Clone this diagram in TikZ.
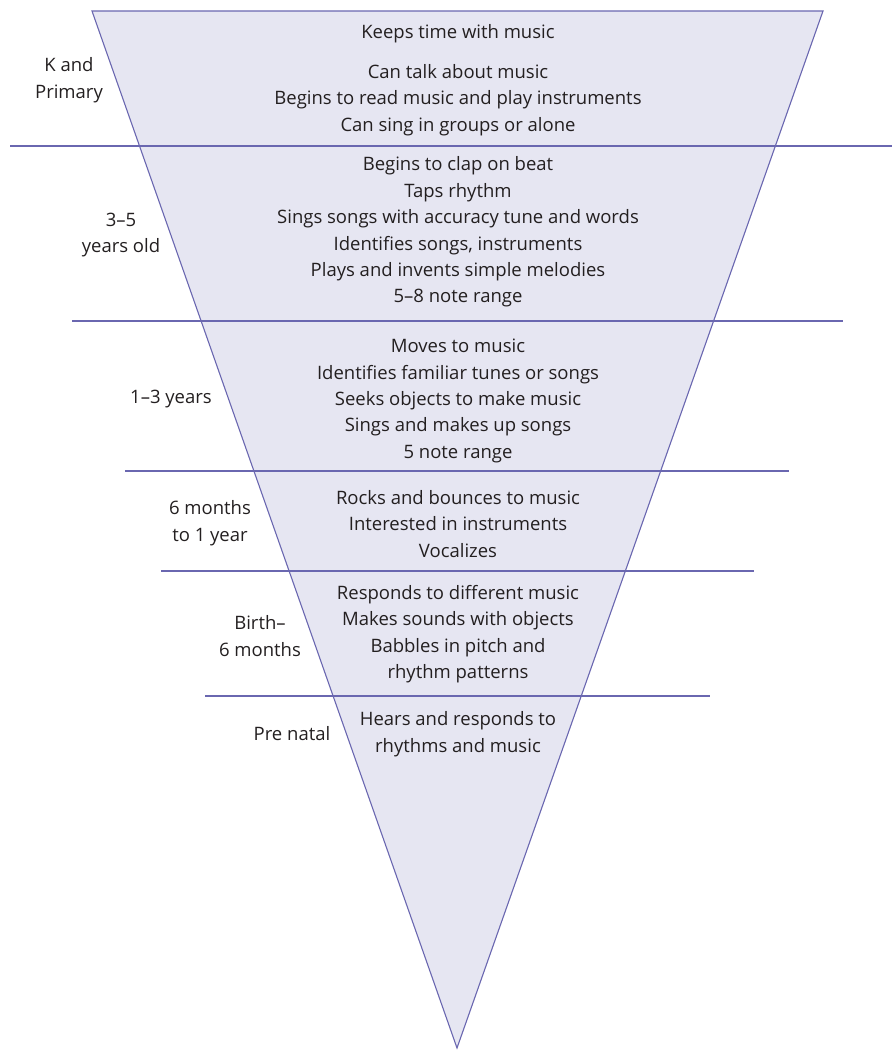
\documentclass[tikz,border=0pt]{standalone}
\usepackage{fontspec}
\setmainfont{Open Sans}
\definecolor{funnelfill}{HTML}{E6E6F2}
\definecolor{funnelline}{HTML}{6A67B0}
\definecolor{inktext}{HTML}{231F20}
\tikzset{
  stage/.style={align=center, text=inktext, inner sep=0pt,
    font=\fontsize{18.5}{26.4}\selectfont},
  age/.style={stage},
  rule/.style={draw=funnelline, line width=1.1pt}
}

\begin{document}
\begin{tikzpicture}[x=1pt, y=-1pt]
\useasboundingbox (0,0) rectangle (892,1050);

% Funnel
\coordinate (top-left)  at (92,11);
\coordinate (top-right) at (823,11);
\coordinate (apex)      at (457,1048);
\filldraw[fill=funnelfill, rule, line join=miter] (top-left) -- (top-right) -- (apex) -- cycle;

% Dividers
\draw[rule] (10,146) -- (892,146);
\draw[rule] (72,321) -- (843,321);
\draw[rule] (125,471) -- (789,471);
\draw[rule] (161,571) -- (754,571);
\draw[rule] (205,696) -- (710,696);

% Ages
\node[age] (age-primary) at (69,80)   {K and\\Primary};
\node[age] (age-35)      at (121,235) {3–5\\years old};
\node[age] (age-13)      at (171,399) {1–3 years};
\node[age] (age-6m)      at (210,523) {6 months\\to 1 year};
\node[age] (age-birth)   at (260,636) {Birth–\\6 months};
\node[age] (age-natal)   at (292,734) {Pre natal};

% Skills
\node[stage] (keeps)     at (458,34)  {Keeps time with music};
\node[stage] (primary)   at (458,100) {Can talk about music\\Begins to read music and play instruments\\Can sing in groups or alone};
\node[stage] (three)     at (458,232) {Begins to clap on beat\\Taps rhythm\\Sings songs with accuracy tune and words\\Identifies songs, instruments\\Plays and invents simple melodies\\5–8 note range};
\node[stage] (one)       at (458,401) {Moves to music\\Identifies familiar tunes or songs\\Seeks objects to make music\\Sings and makes up songs\\5 note range};
\node[stage] (sixmonth)  at (458,524) {Rocks and bounces to music\\Interested in instruments\\Vocalizes};
\node[stage] (birth)     at (458,634) {Responds to different music\\Makes sounds with objects\\Babbles in pitch and\\rhythm patterns};
\node[stage] (natal)     at (458,734) {Hears and responds to\\rhythms and music};

\end{tikzpicture}
\end{document}
